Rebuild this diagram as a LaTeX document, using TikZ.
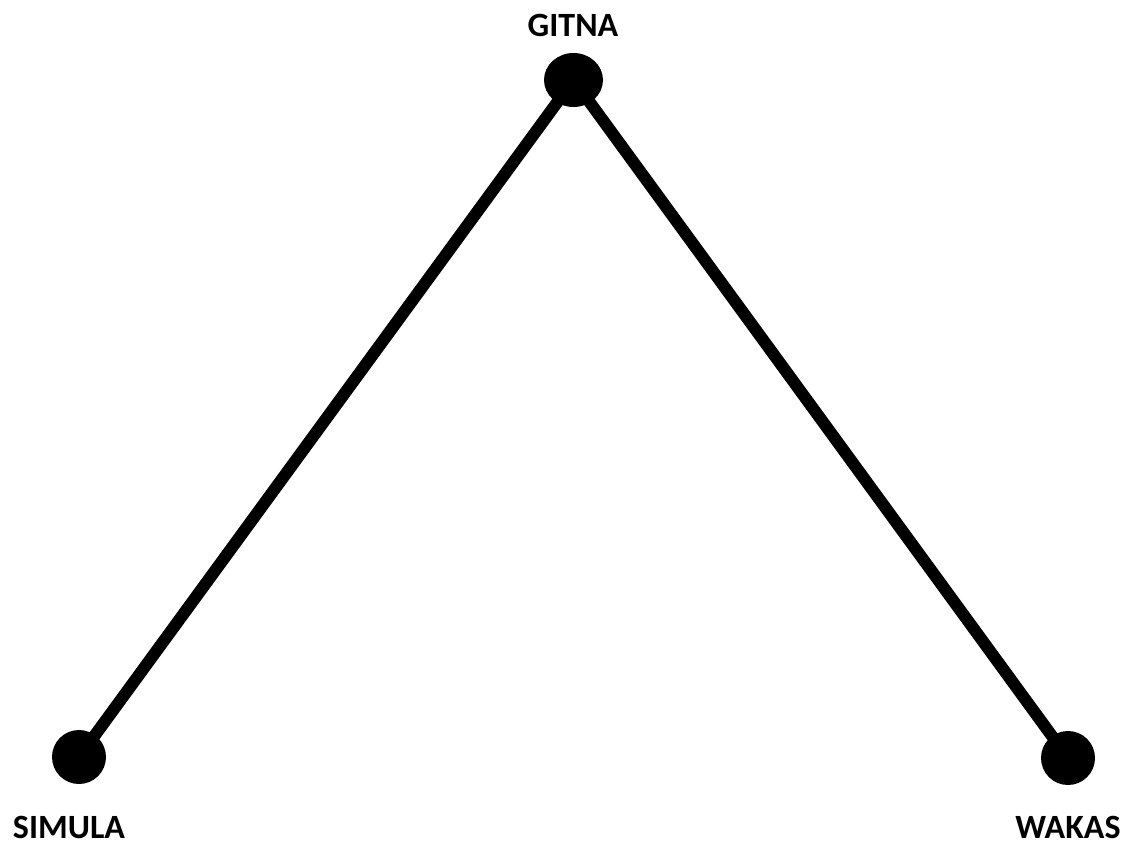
\documentclass[tikz,border=0pt]{standalone}
\usepackage{fontspec}
\setmainfont{Carlito}
\usetikzlibrary{shapes.geometric}
\begin{document}
\begin{tikzpicture}[x=1pt,y=-1pt,
  dot/.style={fill=black,ellipse,inner sep=0pt,minimum width=54pt,minimum height=54pt},
  topdot/.style={dot,minimum width=59pt},
  lbl/.style={font=\fontsize{34}{38}\selectfont\bfseries,inner sep=0pt,anchor=base},
  edge/.style={line width=12pt}]
\useasboundingbox (0,0) rectangle (1130,844);
\node[topdot] (g) at (573.5,80) {};
\node[dot] (s) at (79,757) {};
\node[dot] (w) at (1068,758) {};
\draw[edge] (g.center) -- (s.center);
\draw[edge] (g.center) -- (w.center);
\node[lbl] (gl) at (573,36) {GITNA};
\node[lbl] (sl) at (69,838) {SIMULA};
\node[lbl] (wl) at (1068,838) {WAKAS};
\end{tikzpicture}
\end{document}
